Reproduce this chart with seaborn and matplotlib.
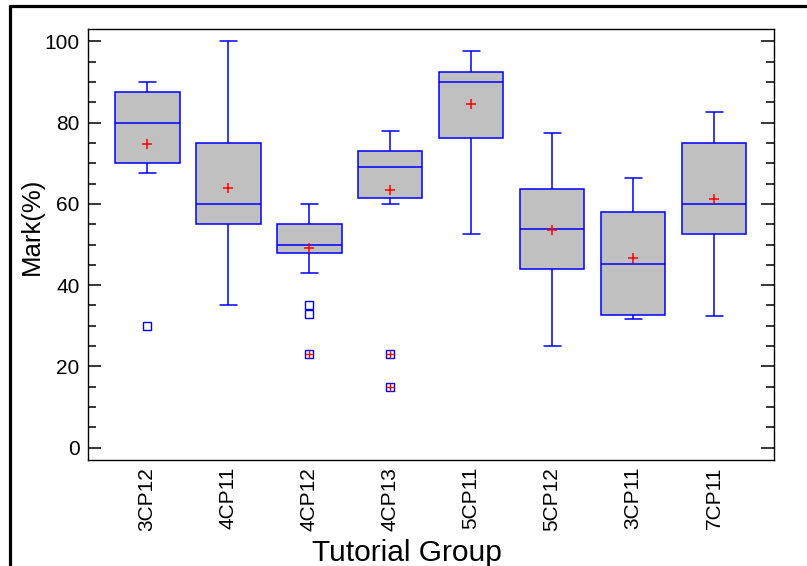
import numpy as np
import pandas as pd
import matplotlib
matplotlib.use("Agg")
import matplotlib.pyplot as plt
from matplotlib.lines import Line2D
from matplotlib.ticker import MultipleLocator
import seaborn as sns

# ---- data ----
groups = ["3CP12", "4CP11", "4CP12", "4CP13", "5CP11", "5CP12", "3CP11", "7CP11"]
whisker_low = [67.5, 35.0, 43.0, 60.0, 52.5, 25.0, 31.8, 32.5]
q1 = [70.0, 55.0, 48.0, 61.5, 76.3, 44.0, 32.7, 52.5]
median = [80.0, 60.0, 50.0, 69.0, 90.0, 53.8, 45.2, 60.0]
q3 = [87.5, 75.0, 55.0, 73.0, 92.5, 63.7, 58.0, 75.0]
whisker_high = [90.0, 100.0, 60.0, 78.0, 97.5, 77.5, 66.4, 82.5]
means = [74.7, 63.9, 49.2, 63.5, 84.5, 53.6, 46.6, 61.3]
outliers = {"3CP12": [30.0], "4CP12": [35.0, 33.0, 23.0], "4CP13": [23.0, 15.0]}
far_outliers = {"4CP12": [23.0], "4CP13": [23.0, 15.0]}

# build a long table whose quartiles / whiskers reproduce the read values
rows = []
for i, g in enumerate(groups):
    vals = [whisker_low[i]] + [q1[i]] * 10 + [median[i]] * 10 + [q3[i]] * 10 + [whisker_high[i]]
    vals += outliers.get(g, [])
    rows += [(g, v) for v in vals]
df = pd.DataFrame(rows, columns=["group", "mark"])

mean_df = pd.DataFrame({"pos": [groups.index(g) for g in groups], "mark": means})
far_rows = [(groups.index(g), v) for g, vs in far_outliers.items() for v in vs]
far_df = pd.DataFrame(far_rows, columns=["pos", "mark"])

sns.set_theme(style="white")
plt.rcParams["font.family"] = ["Liberation Sans", "DejaVu Sans"]
plt.rcParams["text.color"] = "black"
plt.rcParams["axes.labelcolor"] = "black"
plt.rcParams["xtick.color"] = "black"
plt.rcParams["ytick.color"] = "black"
plt.rcParams["xtick.labelcolor"] = "black"
plt.rcParams["ytick.labelcolor"] = "black"

fig = plt.figure(figsize=(8.07, 5.66), dpi=100)
ax = fig.add_axes([88 / 807, 1 - 460 / 566, (774 - 88) / 807, (460 - 29) / 566])

sns.boxplot(data=df, x="group", y="mark", order=groups, ax=ax,
            color="#C0C0C0", linecolor="#0000FF", linewidth=1.1, width=0.8,
            whis=1.5, fliersize=6, saturation=1,
            flierprops=dict(marker="s", markerfacecolor="none",
                            markeredgecolor="#0000FF", markeredgewidth=1.0),
            capwidths=0.21)

sns.scatterplot(data=mean_df, x="pos", y="mark", marker="+", color="red",
                s=60, linewidth=1.1, ax=ax, zorder=5, legend=False)
sns.scatterplot(data=far_df, x="pos", y="mark", marker="+", color="red",
                s=40, linewidth=1.0, ax=ax, zorder=5, legend=False)

ax.set_xlim(-0.73, 7.74)
ax.set_ylim(-3, 103)
ax.yaxis.set_major_locator(MultipleLocator(20))
ax.yaxis.set_minor_locator(MultipleLocator(5))
ax.tick_params(axis="y", which="major", direction="in", length=9.4, width=1.1,
               left=True, right=True, labelsize=15, pad=6, color="black",
               labelcolor="black")
ax.tick_params(axis="y", which="minor", direction="in", length=5.7, width=1.1,
               left=True, right=True, color="black")
ax.tick_params(axis="x", length=0, labelsize=15, pad=5, labelcolor="black")
ax.set_xticks(range(len(groups)))
ax.set_xticklabels(groups, rotation=90, ha="center", va="top")

for sp in ax.spines.values():
    sp.set_color("black")
    sp.set_linewidth(1.0)

ax.set_ylabel("Mark(%)", fontsize=18.5, color="black")
ax.yaxis.label.set_va("center")
ax.yaxis.set_label_coords((32 - 88) / 686, 0.543)
ax.set_xlabel("Tutorial Group", fontsize=21.5, color="black")
ax.xaxis.label.set_va("top")
ax.xaxis.set_label_coords((407 - 88) / 686, (460 - 539) / 431)

# figure frame lines (top and left)
fig.add_artist(Line2D([10 / 807, 1.0], [1 - 6 / 566, 1 - 6 / 566],
                      transform=fig.transFigure, color="black", linewidth=2.3))
fig.add_artist(Line2D([10 / 807, 10 / 807], [0.0, 1 - 6 / 566],
                      transform=fig.transFigure, color="black", linewidth=2.3))

fig.savefig("out.png", dpi=100)
